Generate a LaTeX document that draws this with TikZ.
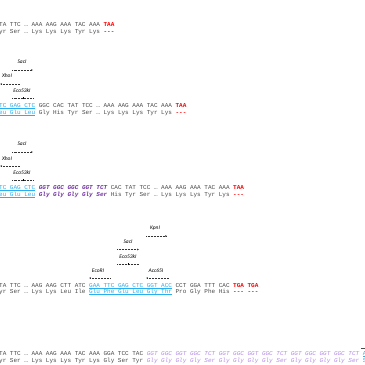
\documentclass[tikz,border=0pt]{standalone}
\usepackage{fontspec}
\usetikzlibrary{arrows.meta}
\newfontfamily\seqfam{Liberation Mono}
\newfontfamily\labfam{Carlito}
\definecolor{txt}{RGB}{75,75,75}
\definecolor{cyb}{RGB}{40,175,240}
\definecolor{dpur}{RGB}{112,48,160}
\definecolor{lpur}{RGB}{180,140,230}
\definecolor{stopred}{RGB}{255,0,0}
\newcommand{\blu}[1]{\textcolor{cyb}{\setbox0\hbox{#1}\rlap{\rule[-0.9pt]{\wd0}{0.3pt}}\box0}}
\newcommand{\dpu}[1]{\textcolor{dpur}{\bfseries\itshape #1}}
\newcommand{\lpu}[1]{\textcolor{lpur}{\itshape #1}}
\newcommand{\stp}[1]{\textcolor{stopred}{\bfseries #1}}
\tikzset{
  seq/.style={anchor=west, inner sep=0pt, text=txt, font=\seqfam\fontsize{6}{7}\selectfont, text height=4pt, text depth=1pt},
  enz/.style={inner sep=0pt, font=\labfam\itshape\fontsize{5.5}{6}\selectfont, text=black},
  site/.style={dash pattern=on 0.8pt off 0.7pt, line width=0.3pt, black!80},
  fwd/.style={site, -{Stealth[length=2pt,width=1.8pt,line width=0pt]}},
  rev/.style={site, {Stealth[length=2pt,width=1.8pt,line width=0pt]}-},
  tick/.style={line width=0.3pt, black},
}
\begin{document}
\begin{tikzpicture}[x=1pt,y=-1pt]
\useasboundingbox (0,0) rectangle (365,365);
% ---------- row 1
\node[seq] (r1d) at (-1,25) {TA TTC … AAA AAG AAA TAC AAA \stp{TAA}};
\node[seq] (r1p) at (-1,32) {yr Ser … Lys Lys Lys Tyr Lys \stp{---}};
% ---------- row 2
\node[enz] (s2) at (22,62) {SacI};
\coordinate (s2a) at (12,70); \coordinate (s2b) at (33,70);
\draw[fwd] (s2a) -- (s2b);
\node[enz] (x2) at (7,76) {XhoI};
\coordinate (x2a) at (0,84); \coordinate (x2b) at (20,84);
\draw[rev] (x2a) -- (x2b);
\node[enz] (e2) at (22,91) {Eco53kI};
\coordinate (e2a) at (12,98); \coordinate (e2b) at (34,98); \coordinate (e2m) at (23,98);
\draw[site] (e2a) -- (e2b);
\draw[tick] ([yshift=-1.1pt]e2m) -- ([yshift=1.1pt]e2m);
\node[seq] (r2d) at (-1,106) {\blu{TC GAG CTC} GGC CAC TAT TCC … AAA AAG AAA TAC AAA \stp{TAA}};
\node[seq] (r2p) at (-1,112.5) {\blu{eu Glu Leu} Gly His Tyr Ser … Lys Lys Lys Tyr Lys \stp{---}};
% ---------- row 3
\node[enz] (s3) at (22,144) {SacI};
\coordinate (s3a) at (12,152); \coordinate (s3b) at (33,152);
\draw[fwd] (s3a) -- (s3b);
\node[enz] (x3) at (7,159) {XhoI};
\coordinate (x3a) at (0,166); \coordinate (x3b) at (20,166);
\draw[rev] (x3a) -- (x3b);
\node[enz] (e3) at (22,173) {Eco53kI};
\coordinate (e3a) at (12,180); \coordinate (e3b) at (34,180); \coordinate (e3m) at (23,180);
\draw[site] (e3a) -- (e3b);
\draw[tick] ([yshift=-1.1pt]e3m) -- ([yshift=1.1pt]e3m);
\node[seq] (r3d) at (-1,188) {\blu{TC GAG CTC} \dpu{GGT GGC GGC GGT TCT} CAC TAT TCC … AAA AAG AAA TAC AAA \stp{TAA}};
\node[seq] (r3p) at (-1,194.5) {\blu{eu Glu Leu} \dpu{Gly Gly Gly Gly Ser} His Tyr Ser … Lys Lys Lys Tyr Lys \stp{---}};
% ---------- row 4
\node[enz] (k4) at (155,228.5) {KpnI};
\coordinate (k4a) at (146,236); \coordinate (k4b) at (167,236);
\draw[fwd] (k4a) -- (k4b);
\node[enz] (s4) at (128,242) {SacI};
\coordinate (s4a) at (117,249.5); \coordinate (s4b) at (139,249.5);
\draw[fwd] (s4a) -- (s4b);
\node[enz] (e4) at (128,257) {Eco53kI};
\coordinate (e4a) at (117,264); \coordinate (e4b) at (139,264); \coordinate (e4m) at (128,264);
\draw[site] (e4a) -- (e4b);
\draw[tick] ([yshift=-1.1pt]e4m) -- ([yshift=1.1pt]e4m);
\node[enz] (r4) at (98,271) {EcoRI};
\coordinate (r4a) at (89,278); \coordinate (r4b) at (111,278);
\draw[rev] (r4a) -- (r4b);
\node[enz] (a4) at (156,271) {Acc65I};
\coordinate (a4a) at (146,278); \coordinate (a4b) at (169,278);
\draw[rev] (a4a) -- (a4b);
\node[seq] (r4d) at (-1,285.5) {TA TTC … AAG AAG CTT ATC \blu{GAA TTC GAG CTC GGT ACC} CCT GGA TTT CAC \stp{TGA TGA}};
\node[seq] (r4p) at (-1,292) {yr Ser … Lys Lys Leu Ile \blu{Glu Phe Glu Leu Gly Thr} Pro Gly Phe His \stp{--- ---}};
% ---------- row 5
\coordinate (t5a) at (361,348); \coordinate (t5b) at (366,348);
\draw[line width=0.3pt, txt] (t5a) -- (t5b);
\node[seq] (r5d) at (-1,354) {TA TTC … AAA AAG AAA TAC AAA GGA TCC TAC \lpu{GGT GGC GGT GGC TCT GGT GGC GGT GGC TCT GGT GGC GGT GGC TCT} \blu{AC}};
\node[seq] (r5p) at (-1,360.5) {yr Ser … Lys Lys Lys Tyr Lys Gly Ser Tyr \lpu{Gly Gly Gly Gly Ser Gly Gly Gly Gly Ser Gly Gly Gly Gly Ser} \textcolor{cyb}{Se}};
\end{tikzpicture}
\end{document}
